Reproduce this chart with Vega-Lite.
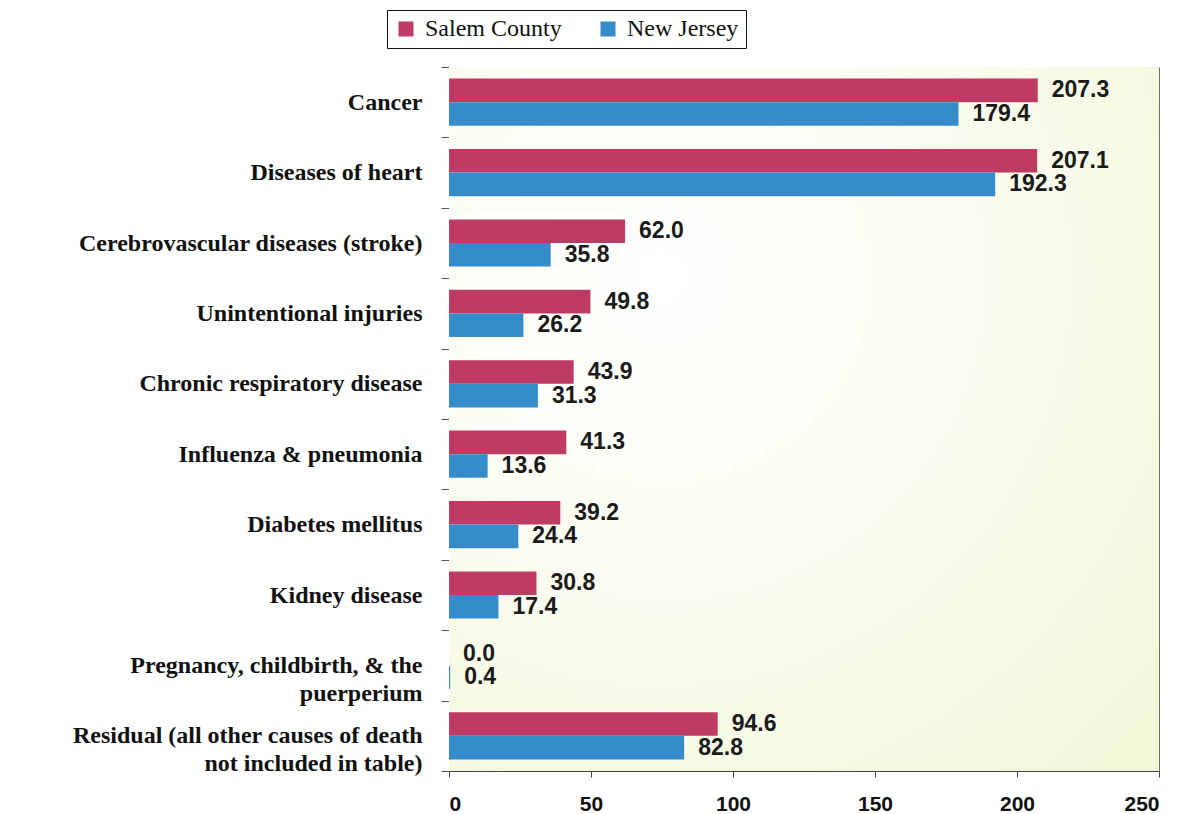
{
  "$schema": "https://vega.github.io/schema/vega-lite/v6.json",
  "width": 710,
  "height": 704,
  "autosize": {"type": "none"},
  "padding": {"left": 449, "top": 67, "right": 29, "bottom": 43},
  "background": "#ffffff",
  "config": {"view": {"stroke": null}},
  "data": {
    "values": [
      {"cause": "Cancer", "series": "Salem County", "value": 207.3},
      {"cause": "Cancer", "series": "New Jersey", "value": 179.4},
      {"cause": "Diseases of heart", "series": "Salem County", "value": 207.1},
      {"cause": "Diseases of heart", "series": "New Jersey", "value": 192.3},
      {"cause": "Cerebrovascular diseases (stroke)", "series": "Salem County", "value": 62.0},
      {"cause": "Cerebrovascular diseases (stroke)", "series": "New Jersey", "value": 35.8},
      {"cause": "Unintentional injuries", "series": "Salem County", "value": 49.8},
      {"cause": "Unintentional injuries", "series": "New Jersey", "value": 26.2},
      {"cause": "Chronic respiratory disease", "series": "Salem County", "value": 43.9},
      {"cause": "Chronic respiratory disease", "series": "New Jersey", "value": 31.3},
      {"cause": "Influenza & pneumonia", "series": "Salem County", "value": 41.3},
      {"cause": "Influenza & pneumonia", "series": "New Jersey", "value": 13.6},
      {"cause": "Diabetes mellitus", "series": "Salem County", "value": 39.2},
      {"cause": "Diabetes mellitus", "series": "New Jersey", "value": 24.4},
      {"cause": "Kidney disease", "series": "Salem County", "value": 30.8},
      {"cause": "Kidney disease", "series": "New Jersey", "value": 17.4},
      {"cause": "Pregnancy, childbirth, & the\npuerperium", "series": "Salem County", "value": 0.0},
      {"cause": "Pregnancy, childbirth, & the\npuerperium", "series": "New Jersey", "value": 0.4},
      {"cause": "Residual (all other causes of death\nnot included in table)", "series": "Salem County", "value": 94.6},
      {"cause": "Residual (all other causes of death\nnot included in table)", "series": "New Jersey", "value": 82.8}
    ]
  },
  "layer": [
    {
      "data": {"values": [{"panel": "plot"}]},
      "mark": {
        "type": "rect",
        "fill": {
          "gradient": "radial",
          "x1": 0.3, "y1": 0.3, "r1": 0,
          "x2": 0.3, "y2": 0.3, "r2": 0.95,
          "stops": [
            {"offset": 0, "color": "#ffffff"},
            {"offset": 0.4, "color": "#fcfdf3"},
            {"offset": 1, "color": "#f2f6d8"}
          ]
        }
      },
      "encoding": {"x": {"datum": 0}, "x2": {"datum": 250}}
    },
    {
      "mark": {"type": "bar"},
      "encoding": {
        "y": {
          "field": "cause",
          "type": "nominal",
          "sort": null,
          "scale": {"paddingInner": 0, "paddingOuter": 0},
          "axis": {
            "title": null,
            "labelExpr": "split(datum.label, '\\n')",
            "labelFont": "Liberation Serif",
            "labelFontSize": 24,
            "labelFontWeight": "bold",
            "labelColor": "#111111",
            "labelLimit": 600,
            "labelLineHeight": 28,
            "labelBaseline": "middle",
            "labelAlign": "right",
            "labelPadding": 19,
            "tickBand": "extent",
            "tickSize": 8,
            "tickColor": "#555555",
            "domainColor": "#9a9a9a",
            "grid": false
          }
        },
        "yOffset": {
          "field": "series",
          "type": "nominal",
          "sort": ["Salem County", "New Jersey"],
          "scale": {"paddingInner": 0, "paddingOuter": 0.49}
        },
        "x": {
          "field": "value",
          "type": "quantitative",
          "scale": {"domain": [0, 250], "nice": false},
          "axis": {
            "title": null,
            "values": [0, 50, 100, 150, 200, 250],
            "labelFont": "Liberation Sans",
            "labelFontSize": 21,
            "labelFontWeight": "bold",
            "labelColor": "#111111",
            "labelPadding": 16,
            "tickSize": 6,
            "tickColor": "#444444",
            "domainColor": "#444444",
            "grid": true,
            "gridColor": "#6e6e6e",
            "gridWidth": 1
          }
        },
        "color": {
          "field": "series",
          "type": "nominal",
          "scale": {"domain": ["Salem County", "New Jersey"], "range": ["#be3c63", "#348dca"]},
          "legend": {
            "title": null,
            "orient": "none",
            "legendX": -62,
            "legendY": -57,
            "direction": "horizontal",
            "fillColor": "#ffffff",
            "strokeColor": "#111111",
            "padding": 7,
            "symbolType": "square",
            "symbolSize": 225,
            "labelFont": "Liberation Serif",
            "labelFontSize": 24,
            "labelColor": "#111111",
            "labelOffset": 7,
            "columnPadding": 34
          }
        }
      }
    },
    {
      "mark": {
        "type": "text",
        "align": "left",
        "baseline": "middle",
        "dx": 14,
        "font": "Liberation Sans",
        "fontSize": 23,
        "fontWeight": "bold",
        "color": "#1a1a1a"
      },
      "encoding": {
        "y": {"field": "cause", "type": "nominal", "sort": null},
        "yOffset": {"field": "series", "type": "nominal", "sort": ["Salem County", "New Jersey"]},
        "x": {"field": "value", "type": "quantitative"},
        "text": {"field": "value", "type": "quantitative", "format": ".1f"}
      }
    }
  ]
}
